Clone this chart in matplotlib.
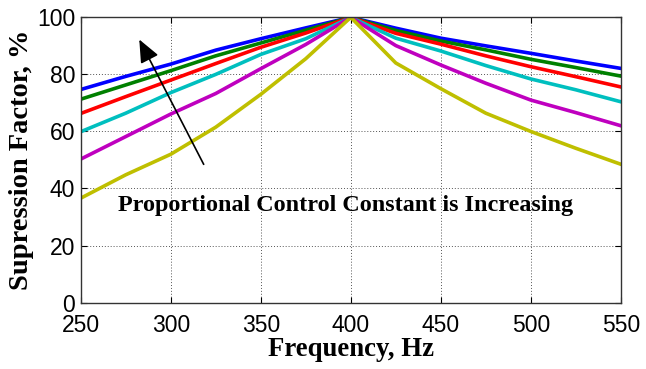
import numpy as np
import matplotlib
matplotlib.use("Agg")
import matplotlib.pyplot as plt

freq = [250, 275, 300, 325, 350, 375, 400, 425, 450, 475, 500, 525, 550]

# suppression factor curves (%)
blue = [74.7, 79.3, 83.6, 88.5, 92.5, 96.3, 100, 96.2, 92.7, 90.0, 87.4, 84.7, 82.1]
green = [71.3, 76.3, 81.3, 86.5, 91.0, 95.5, 100, 95.4, 91.7, 88.6, 85.3, 82.4, 79.4]
red = [66.3, 72.2, 78.0, 83.8, 89.5, 94.5, 100, 94.4, 90.6, 86.5, 82.7, 79.2, 75.6]
cyan = [59.9, 66.4, 73.6, 80.0, 87.0, 92.5, 100, 92.7, 88.2, 83.1, 78.4, 74.6, 70.4]
magenta = [50.3, 58.2, 66.1, 73.3, 82.0, 90.5, 100, 90.1, 83.3, 76.9, 71.0, 66.6, 62.0]
yellow = [36.6, 44.8, 52.0, 61.5, 73.0, 85.5, 100, 84.0, 75.0, 66.4, 60.0, 54.1, 48.5]

series = [blue, green, red, cyan, magenta, yellow]
colors = ['#0000ff', '#008000', '#ff0000', '#00bfbf', '#bf00bf', '#bfbf00']

xticks = [250, 300, 350, 400, 450, 500, 550]
yticks = [0, 20, 40, 60, 80, 100]

fig = plt.figure(figsize=(6.46, 3.69), dpi=100)
ax = fig.add_axes([0.125, 0.180, 0.836, 0.773])

for s, c in zip(series, colors):
    ax.plot(freq, s, color=c, linewidth=2.6)

ax.set_xlim(250, 550)
ax.set_ylim(0, 100)
ax.set_xticks(xticks)
ax.set_yticks(yticks)
ax.grid(True, linestyle=(0, (1, 2)), color='#555555', linewidth=0.7)
ax.tick_params(direction='in', top=True, right=True, length=4, width=0.8,
               labelsize=16.5)
ax.tick_params(axis='x', pad=8)
ax.tick_params(axis='y', pad=4)
for lab in ax.get_xticklabels() + ax.get_yticklabels():
    lab.set_family('Liberation Sans')
for sp in ax.spines.values():
    sp.set_linewidth(1.0)
    sp.set_color('#333333')

ax.set_xlabel('Frequency, Hz', fontsize=19.3, fontweight='bold',
              family='Liberation Serif', labelpad=0)
ax.set_ylabel('Supression Factor, %', fontsize=20.5, fontweight='bold',
              family='Liberation Serif', labelpad=2)

ax.annotate('', xy=(281.8, 93.1), xytext=(319, 47.6),
            arrowprops=dict(arrowstyle='-|>,head_length=1.4,head_width=0.6',
                            color='black', lw=1.2))
ax.text(270.8, 34.0, 'Proportional Control Constant is Increasing',
        fontsize=17.4, fontweight='bold', family='Liberation Serif',
        ha='left', va='center')

fig.savefig('out.png', dpi=100)
